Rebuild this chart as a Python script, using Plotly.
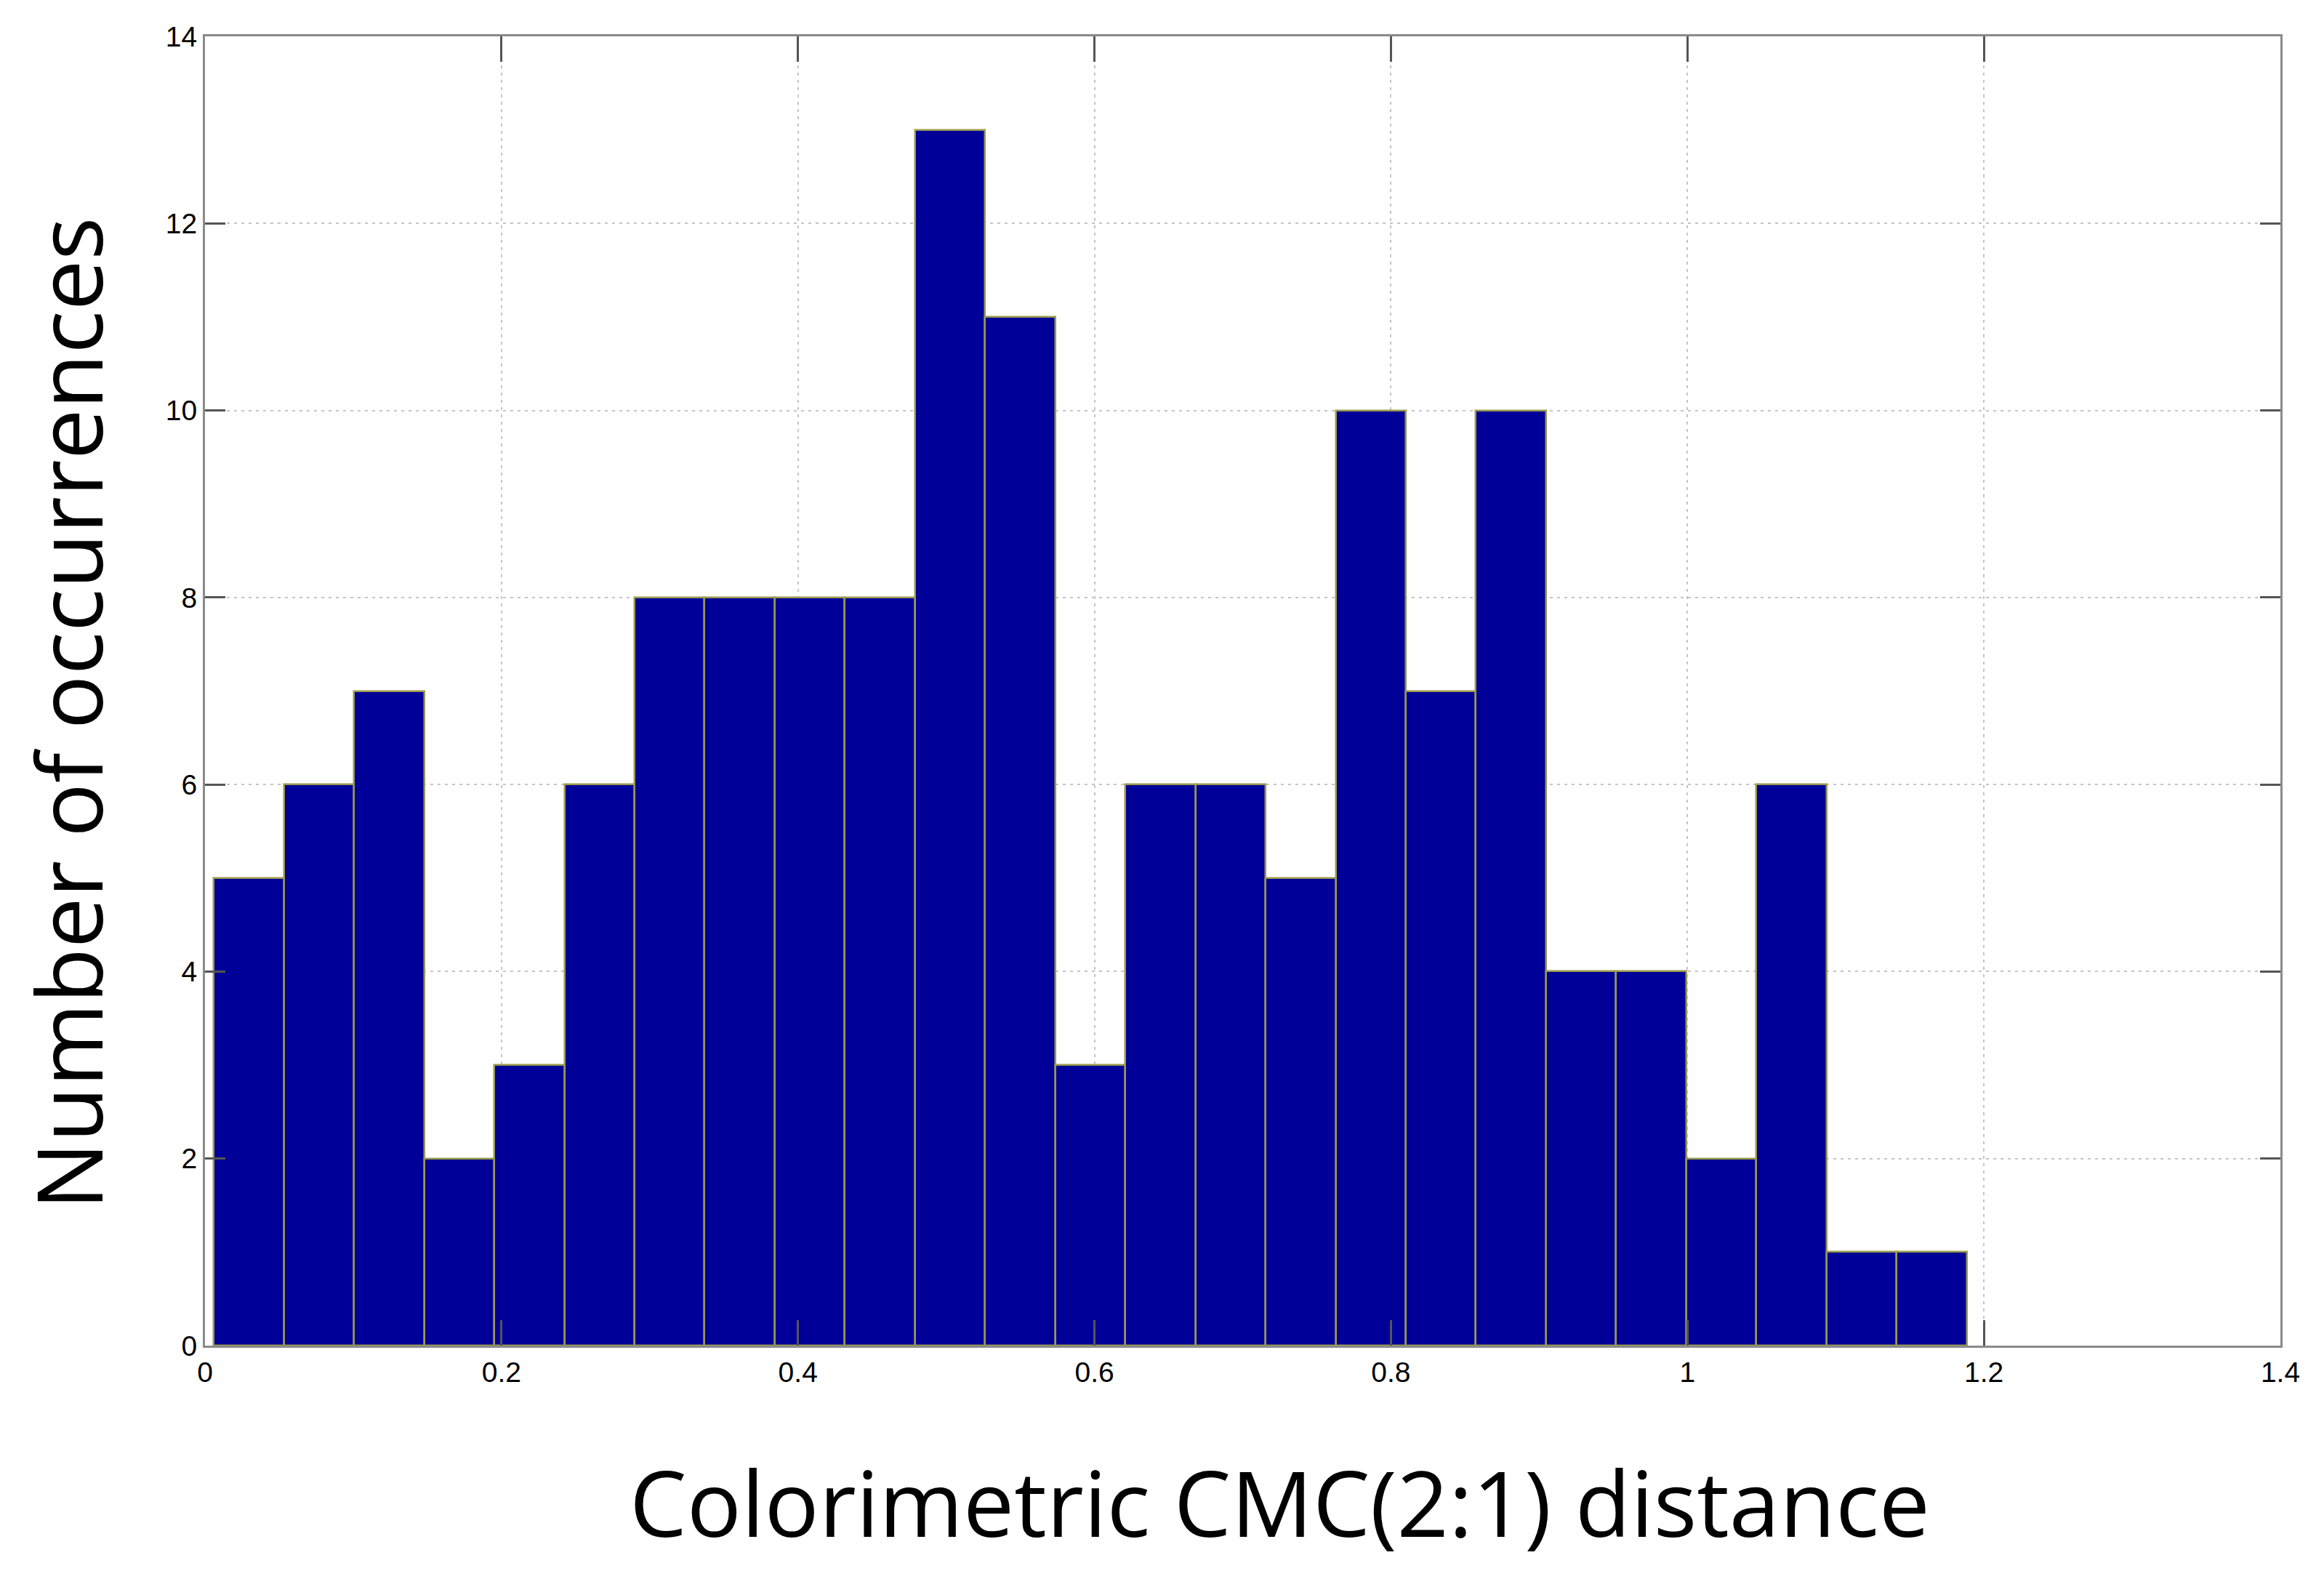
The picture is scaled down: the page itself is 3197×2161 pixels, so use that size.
import numpy as np
import plotly.graph_objects as go

# Histogram data (25 bins between min and max of distances)
bin_min = 0.006
bin_max = 1.1885
counts = [5, 6, 7, 2, 3, 6, 8, 8, 8, 8, 13, 11, 3, 6, 6, 5, 10, 7, 10, 4, 4, 2, 6, 1, 1]
x_ticks = [0, 0.2, 0.4, 0.6, 0.8, 1, 1.2, 1.4]
x_tick_text = ["0", "0.2", "0.4", "0.6", "0.8", "1", "1.2", "1.4"]
y_ticks = [0, 2, 4, 6, 8, 10, 12, 14]

x_title = "Colorimetric CMC(2:1) distance"
y_title = "Number of occurrences"

n = len(counts)
edges = np.linspace(bin_min, bin_max, n + 1)
centers = (edges[:-1] + edges[1:]) / 2
width = edges[1] - edges[0]

fig = go.Figure()
fig.add_trace(go.Bar(
    x=centers, y=counts, width=width,
    marker=dict(color="#000098", line=dict(color="#9a9a4c", width=2.5)),
    showlegend=False,
))

# page body has an 8px default margin
W, H = 3181, 2145
L, R, T, B = 274, 52, 42, 302

axis_common = dict(
    showline=True, linecolor="#8a8a8a", linewidth=3, mirror="ticks",
    ticks="inside", tickcolor="#555555", tickwidth=3,
    showgrid=True, gridcolor="#c4c4c4", gridwidth=2, griddash="4px,6px",
    zeroline=False,
    tickfont=dict(family="Liberation Sans", size=39, color="black"),
)

fig.update_layout(
    width=W, height=H,
    margin=dict(l=L, r=R, t=T, b=B),
    paper_bgcolor="white", plot_bgcolor="white",
    bargap=0,
    xaxis=dict(range=[0, 1.4], tickvals=x_ticks, ticktext=x_tick_text,
               ticklen=35, **axis_common),
    yaxis=dict(range=[0, 14], tickvals=y_ticks, ticklen=28, **axis_common),
    annotations=[
        dict(text=x_title, xref="paper", yref="paper", x=0.518, y=-0.119,
             xanchor="center", yanchor="middle", showarrow=False,
             font=dict(family="Open Sans", size=125, color="black")),
        dict(text=y_title, xref="paper", yref="paper", x=-0.0665, y=0.483,
             xanchor="center", yanchor="middle", showarrow=False, textangle=-90,
             font=dict(family="Open Sans", size=124, color="black")),
    ],
)

fig.write_html("out.html")
